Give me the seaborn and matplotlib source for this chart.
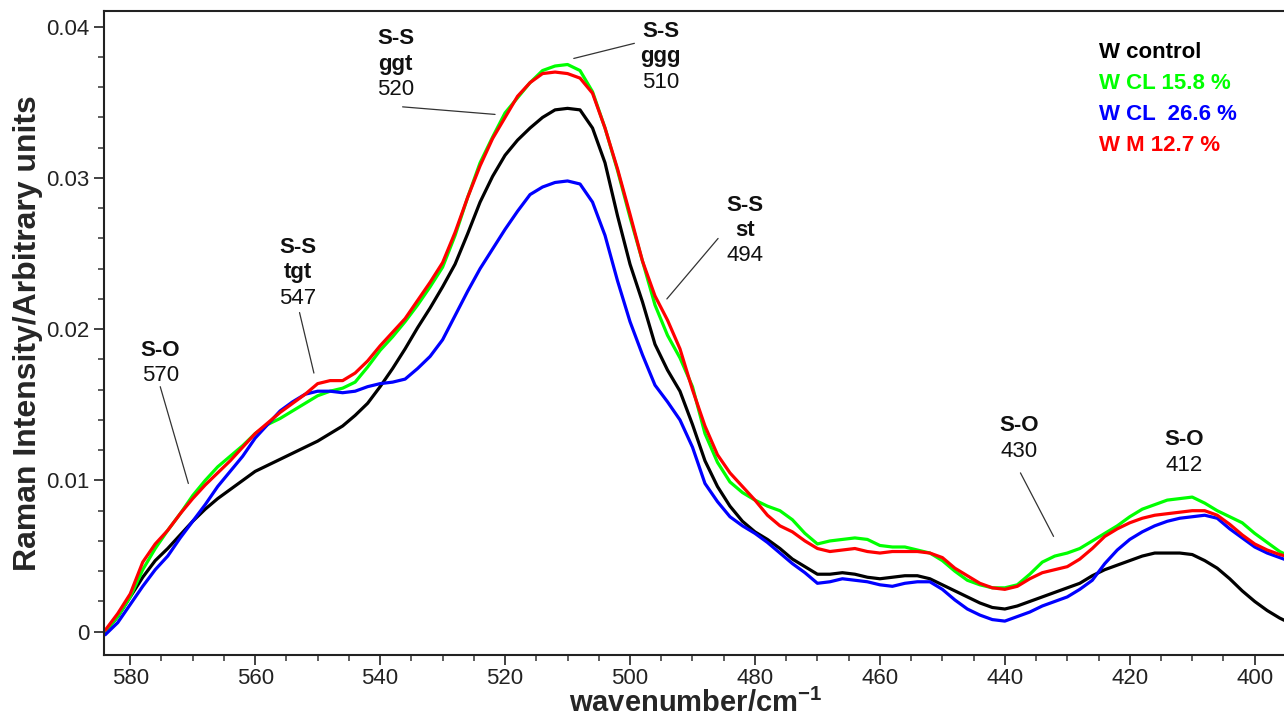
import numpy as np
import pandas as pd
import seaborn as sns
import matplotlib
matplotlib.use("Agg")
import matplotlib.pyplot as plt
from matplotlib.ticker import MultipleLocator, FuncFormatter

# wavenumber grid (cm-1), every 2 units
wavenumber = list(range(584, 392, -2))

w_control = [
    0.0000, 0.0010, 0.0023, 0.0036, 0.0047, 0.0055, 0.0064, 0.0073, 0.0081, 0.0088,
    0.0094, 0.0100, 0.0106, 0.0110, 0.0114, 0.0118, 0.0122, 0.0126, 0.0131, 0.0136,
    0.0143, 0.0151, 0.0162, 0.0174, 0.0187, 0.0201, 0.0214, 0.0228, 0.0243, 0.0263,
    0.0284, 0.0301, 0.0315, 0.0325, 0.0333, 0.0340, 0.0345, 0.0346, 0.0345, 0.0333,
    0.0310, 0.0275, 0.0243, 0.0218, 0.0190, 0.0173, 0.0159, 0.0137, 0.0113, 0.0096,
    0.0083, 0.0073, 0.0066, 0.0061, 0.0055, 0.0048, 0.0043, 0.0038, 0.0038, 0.0039,
    0.0038, 0.0036, 0.0035, 0.0036, 0.0037, 0.0037, 0.0035, 0.0031, 0.0027, 0.0023,
    0.0019, 0.0016, 0.0015, 0.0017, 0.0020, 0.0023, 0.0026, 0.0029, 0.0032, 0.0037,
    0.0041, 0.0044, 0.0047, 0.0050, 0.0052, 0.0052, 0.0052, 0.0051, 0.0047, 0.0042,
    0.0035, 0.0027, 0.0020, 0.0014, 0.0009, 0.0005,
]
w_cl_158 = [
    0.0000, 0.0010, 0.0023, 0.0041, 0.0055, 0.0067, 0.0078, 0.0090, 0.0100, 0.0109,
    0.0116, 0.0123, 0.0131, 0.0137, 0.0141, 0.0146, 0.0151, 0.0156, 0.0159, 0.0161,
    0.0165, 0.0175, 0.0186, 0.0195, 0.0205, 0.0216, 0.0228, 0.0241, 0.0262, 0.0287,
    0.0310, 0.0327, 0.0343, 0.0353, 0.0363, 0.0371, 0.0374, 0.0375, 0.0371, 0.0357,
    0.0333, 0.0305, 0.0274, 0.0245, 0.0216, 0.0196, 0.0181, 0.0162, 0.0131, 0.0112,
    0.0099, 0.0092, 0.0087, 0.0083, 0.0080, 0.0074, 0.0065, 0.0058, 0.0060, 0.0061,
    0.0062, 0.0061, 0.0057, 0.0056, 0.0056, 0.0054, 0.0052, 0.0047, 0.0040, 0.0034,
    0.0031, 0.0029, 0.0029, 0.0031, 0.0038, 0.0046, 0.0050, 0.0052, 0.0055, 0.0060,
    0.0065, 0.0070, 0.0076, 0.0081, 0.0084, 0.0087, 0.0088, 0.0089, 0.0085, 0.0080,
    0.0076, 0.0072, 0.0065, 0.0059, 0.0053, 0.0049,
]
w_cl_266 = [
    -0.0002, 0.0006, 0.0018, 0.0030, 0.0041, 0.0050, 0.0062, 0.0073, 0.0084, 0.0096,
    0.0106, 0.0116, 0.0128, 0.0137, 0.0146, 0.0152, 0.0157, 0.0159, 0.0159, 0.0158,
    0.0159, 0.0162, 0.0164, 0.0165, 0.0167, 0.0174, 0.0182, 0.0193, 0.0209, 0.0225,
    0.0240, 0.0253, 0.0266, 0.0278, 0.0289, 0.0294, 0.0297, 0.0298, 0.0296, 0.0284,
    0.0262, 0.0232, 0.0205, 0.0183, 0.0163, 0.0152, 0.0140, 0.0122, 0.0098, 0.0086,
    0.0076, 0.0070, 0.0065, 0.0059, 0.0052, 0.0045, 0.0039, 0.0032, 0.0033, 0.0035,
    0.0034, 0.0033, 0.0031, 0.0030, 0.0032, 0.0033, 0.0033, 0.0028, 0.0021, 0.0015,
    0.0011, 0.0008, 0.0007, 0.0010, 0.0013, 0.0017, 0.0020, 0.0023, 0.0028, 0.0034,
    0.0045, 0.0054, 0.0061, 0.0066, 0.0070, 0.0073, 0.0075, 0.0076, 0.0077, 0.0075,
    0.0068, 0.0062, 0.0056, 0.0052, 0.0049, 0.0046,
]
w_m_127 = [
    0.0001, 0.0012, 0.0025, 0.0046, 0.0058, 0.0067, 0.0078, 0.0088, 0.0097, 0.0105,
    0.0113, 0.0122, 0.0131, 0.0138, 0.0145, 0.0151, 0.0157, 0.0164, 0.0166, 0.0166,
    0.0171, 0.0179, 0.0189, 0.0198, 0.0207, 0.0219, 0.0231, 0.0244, 0.0264, 0.0287,
    0.0308, 0.0326, 0.0340, 0.0354, 0.0363, 0.0369, 0.0370, 0.0369, 0.0366, 0.0356,
    0.0333, 0.0306, 0.0276, 0.0245, 0.0222, 0.0206, 0.0187, 0.0160, 0.0136, 0.0117,
    0.0105, 0.0096, 0.0087, 0.0077, 0.0070, 0.0066, 0.0060, 0.0055, 0.0053, 0.0054,
    0.0055, 0.0053, 0.0052, 0.0053, 0.0053, 0.0053, 0.0052, 0.0049, 0.0042, 0.0037,
    0.0032, 0.0029, 0.0028, 0.0030, 0.0035, 0.0039, 0.0041, 0.0043, 0.0048, 0.0055,
    0.0063, 0.0068, 0.0072, 0.0075, 0.0077, 0.0078, 0.0079, 0.0080, 0.0080, 0.0077,
    0.0071, 0.0064, 0.0058, 0.0054, 0.0051, 0.0049,
]

samples = ["W control", "W CL 15.8 %", "W CL  26.6 %", "W M 12.7 %"]
colors = ["#000000", "#00ff00", "#0000ff", "#ff0000"]

# band labels: (bond, conformation, position)
bands = [
    ("S-O", "", "570"),
    ("S-S", "tgt", "547"),
    ("S-S", "ggt", "520"),
    ("S-S", "ggg", "510"),
    ("S-S", "st", "494"),
    ("S-O", "", "430"),
    ("S-O", "", "412"),
]

df = pd.concat([
    pd.DataFrame({"wavenumber": wavenumber, "intensity": vals, "sample": name})
    for name, vals in zip(samples, [w_control, w_cl_158, w_cl_266, w_m_127])
])

sns.set_style("ticks")
plt.rcParams["font.family"] = ["Liberation Sans", "DejaVu Sans"]
plt.rcParams["mathtext.fontset"] = "custom"
plt.rcParams["mathtext.bf"] = "Liberation Sans:bold"
plt.rcParams["mathtext.rm"] = "Liberation Sans"

fig = plt.figure(figsize=(12.84, 7.2), dpi=100)
ax = fig.add_axes([0.081, 0.0903, 0.921, 0.8949])

sns.lineplot(data=df, x="wavenumber", y="intensity", hue="sample",
             hue_order=samples, palette=dict(zip(samples, colors)),
             linewidth=2.3, ax=ax)

ax.set_xlim(584.2, 394.9)
ax.set_ylim(-0.00154, 0.04106)
ax.xaxis.set_major_locator(MultipleLocator(20))
ax.xaxis.set_minor_locator(MultipleLocator(5))
ax.yaxis.set_major_locator(MultipleLocator(0.01))
ax.yaxis.set_minor_locator(MultipleLocator(0.002))
ax.yaxis.set_major_formatter(FuncFormatter(lambda v, p: f"{v:g}"))
ax.tick_params(which="major", length=7, width=1.3, labelsize=16,
               labelcolor="#222222", color="#333333")
ax.tick_params(axis="x", which="major", pad=2.5)
ax.tick_params(which="minor", length=4, width=1.1, color="#333333")

for side in ["left", "bottom", "top"]:
    ax.spines[side].set_linewidth(1.5)
    ax.spines[side].set_color("#222222")
ax.spines["right"].set_visible(False)

ax.set_xlabel(r"wavenumber/cm$^{\mathbf{-1}}$", fontsize=21,
              fontweight="bold", labelpad=0)
ax.set_ylabel("Raman Intensity/Arbitrary units", fontsize=23,
              fontweight="bold", labelpad=2)

# text positions and leader lines in data coordinates
text_x = [575.2, 553.2, 537.5, 495.1, 481.6, 437.7, 411.3]
text_y = [0.0186, 0.0254, 0.0392, 0.0397, 0.0282, 0.0136, 0.0127]
leaders = [
    ((575.2, 0.0162), (570.7, 0.0098)),
    ((552.9, 0.0211), (550.6, 0.0171)),
    ((536.4, 0.0347), (521.6, 0.0342)),
    ((499.3, 0.0389), (509.0, 0.0379)),
    ((485.9, 0.0260), (494.1, 0.0220)),
    ((437.5, 0.0105), (432.2, 0.0063)),
    None,
]
step = 0.00168
for (bond, conf, pos), tx, ty, ld in zip(bands, text_x, text_y, leaders):
    lines = [(bond, "bold"), (conf, "bold"), (pos, "normal")]
    lines = [l for l in lines if l[0]]
    for i, (s, w) in enumerate(lines):
        ax.text(tx, ty - i * step, s, ha="center", va="center",
                fontsize=16, fontweight=w, color="#111111")
    if ld is not None:
        ax.plot([ld[0][0], ld[1][0]], [ld[0][1], ld[1][1]],
                color="#333333", linewidth=0.9)

leg = ax.legend(loc="upper left", bbox_to_anchor=(0.832, 0.968),
                frameon=False, handlelength=0, handletextpad=0,
                borderpad=0, labelspacing=0.45, labelcolor="linecolor",
                prop={"weight": "bold", "size": 16})
for h in leg.legend_handles:
    h.set_visible(False)

plt.savefig("out.png", dpi=100)
